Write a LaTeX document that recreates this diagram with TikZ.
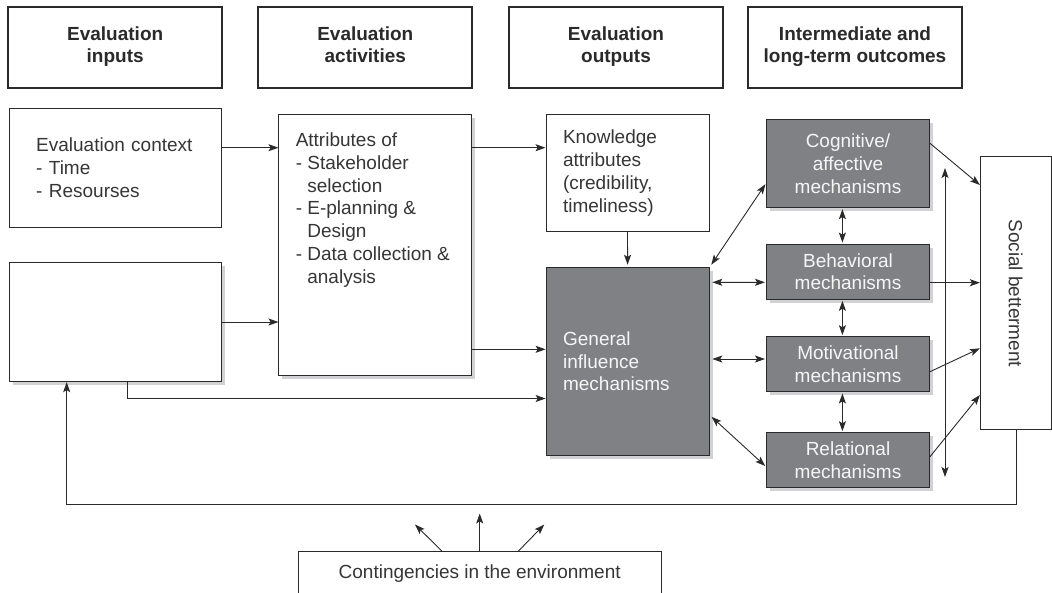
\documentclass[tikz,border=0pt]{standalone}
\usepackage{fontspec}
\setmainfont{Liberation Sans}
\usepackage{xcolor}
\definecolor{evdark}{HTML}{2A2A2A}
\definecolor{evtext}{HTML}{363636}
\definecolor{evgray}{HTML}{808184}
\definecolor{evshade}{HTML}{D2D2D4}
\definecolor{evwhite}{HTML}{F6F6F6}
\usepackage{tikz}
\usetikzlibrary{arrows.meta,positioning,shadows}
\newcommand\evboxfont{\fontsize{19}{22.8}\selectfont}
\newcommand\evhdrfont{\fontsize{19}{22.5}\selectfont\bfseries}
\tikzset{
  hdrbox/.style={
    draw=evdark, fill=white, line width=1.8pt,
    minimum width=214pt, minimum height=81pt,
    align=center, font=\evhdrfont, text=evdark
  },
  inbox/.style={
    draw=evdark, fill=white, line width=1pt,
    align=left, font=\evboxfont, text=evtext, inner ysep=4pt
  },
  shadebox/.style={
    inbox,
    drop shadow={shadow xshift=3.5pt, shadow yshift=-3.5pt,
                 fill=evshade, opacity=1}
  },
  mechbox/.style={
    shadebox, fill=evgray, text=evwhite, align=center,
    minimum width=163pt, minimum height=55.3pt, inner sep=0pt
  },
  flowarr/.style={-{Stealth[length=10pt,width=7pt,inset=2.2pt]},
                  draw=evdark, line width=0.9pt},
  dblarr/.style={{Stealth[length=10pt,width=7pt,inset=2.2pt]}-{Stealth[length=10pt,width=7pt,inset=2.2pt]},
                 draw=evdark, line width=0.9pt}
}

\begin{document}
\begin{tikzpicture}[x=1pt, y=-1pt]
  \useasboundingbox (0,0) rectangle (1052,592);

  \node[hdrbox] (hin)   at (115.2,47.8) {Evaluation\\inputs\strut};
  \node[hdrbox] (hact)  at (365.3,47.8) {Evaluation\\activities\strut};
  \node[hdrbox] (hout)  at (616.0,47.8) {Evaluation\\outputs\strut};
  \node[hdrbox] (hlong) at (855.0,47.8) {Intermediate and\\long-term outcomes\strut};

  \node[inbox, minimum height=119pt, text width=158pt, inner xsep=27.2pt]
    (ctx) at (115.2,167.5) {Evaluation context\\- Time\\- Resourses};
  \node[shadebox, minimum width=212.4pt, minimum height=119.4pt]
    (blank) at (115.2,322) {};
  \node[shadebox, inner xsep=16.8pt, inner ysep=18pt] (attr) at (375.2,244.9)
    {\parbox[c][224.3pt][t]{158.9pt}{Attributes of\\- Stakeholder\\
     \phantom{- }selection\\- E-planning \&\\\phantom{- }Design\\
     - Data collection \&\\\phantom{- }analysis}};
  \node[inbox, minimum height=117pt, text width=129pt, inner xsep=17pt]
    (know) at (627.5,173.2) {Knowledge\\attributes\\(credibility,\\timeliness)};
  \node[shadebox, fill=evgray, text=evwhite, minimum height=187.3pt,
        text width=129pt, inner xsep=17pt]
    (gen) at (627.6,361.4) {General\\influence\\mechanisms};

  \node[mechbox, minimum height=88.4pt] (cog) at (848,163.5)
    {Cognitive/\\affective\\mechanisms};
  \node[mechbox] (beh) at (848,271.7) {Behavioral\\mechanisms};
  \node[mechbox] (mot) at (848,364.3) {Motivational\\mechanisms};
  \node[mechbox] (rel) at (848,460.3) {Relational\\mechanisms};

  \node[inbox, minimum width=70.6pt, minimum height=273.3pt]
    (soc) at (1015.7,293.3) {};
  \node[rotate=-90, font=\evboxfont, text=evtext] (soctxt) at (soc.center)
    {Social betterment};

  \node[inbox, align=center, minimum width=362.7pt, minimum height=44pt]
    (cont) at (479.7,573.7) {Contingencies in the environment};

  \draw[flowarr] ([yshift=19.8pt]ctx.east) -- ([yshift=97.2pt]attr.west);
  \draw[flowarr] (blank.east) -- ([yshift=-77.1pt]attr.west);
  \draw[flowarr] ([yshift=97.2pt]attr.east) -- ([yshift=25.5pt]know.west);
  \draw[flowarr] ([yshift=-104.4pt]attr.east) -- ([yshift=12.1pt]gen.west);
  \draw[flowarr] ([xshift=12.3pt]blank.south) |- ([yshift=-37.1pt]gen.west);
  \draw[flowarr, shorten >=2.5pt] (know.south) -- (gen.north);

  \draw[dblarr, shorten <=3pt, shorten >=1pt]
    (gen.north east) -- ([yshift=-19.8pt]cog.west);
  \draw[dblarr, shorten <=2.7pt, shorten >=1pt]
    ([yshift=79.1pt]gen.east) -- ([yshift=-10.6pt]beh.west);
  \draw[dblarr, shorten <=2.7pt, shorten >=1pt]
    ([yshift=2.4pt]gen.east) -- ([yshift=5.3pt]mot.west);
  \draw[dblarr, shorten <=2.7pt, shorten >=1pt]
    ([yshift=-53.6pt]gen.east) -- ([yshift=-6.4pt]rel.west);

  \draw[dblarr, shorten <=1pt, shorten >=1pt]
    ([xshift=-5.6pt]cog.south) -- ([xshift=-5.6pt]beh.north);
  \draw[dblarr, shorten <=1pt, shorten >=1pt]
    ([xshift=-5.6pt]beh.south) -- ([xshift=-5.6pt]mot.north);
  \draw[dblarr, shorten <=1pt, shorten >=1pt]
    ([xshift=-5.6pt]mot.south) -- ([xshift=-5.6pt]rel.north);

  \draw[flowarr] ([yshift=20.2pt]cog.east) -- ([yshift=108.3pt]soc.west);
  \draw[flowarr] ([yshift=-11pt]beh.east) -- ([yshift=10.6pt]soc.west);
  \draw[flowarr] ([yshift=-7.4pt]mot.east) -- ([yshift=-55pt]soc.west);
  \draw[flowarr] ([yshift=3.6pt]rel.east) -- ([yshift=-101.7pt]soc.west);

  \coordinate (spantop) at (945,168);
  \coordinate (spanbot) at (945,477);
  \draw[dblarr] (spantop) -- (spanbot);

  \draw[flowarr] ([xshift=1pt]soc.south) -- ++(0,74.3)
    -| ([xshift=-48.5pt]blank.south);

  \draw[flowarr] ([xshift=-37.7pt]cont.north) -- ++(-27,-26.7);
  \draw[flowarr] (cont.north) -- ++(0,-37.7);
  \draw[flowarr] ([xshift=38.6pt]cont.north) -- ++(26,-26.7);
\end{tikzpicture}
\end{document}
